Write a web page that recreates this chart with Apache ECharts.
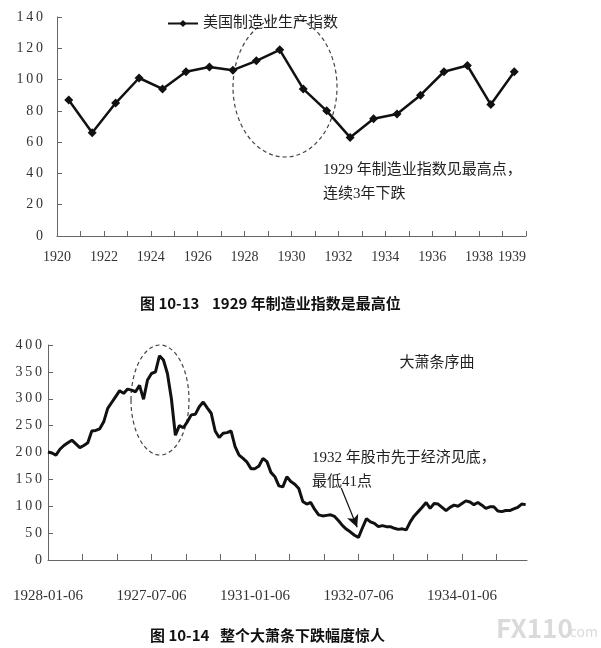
<!DOCTYPE html>
<html>
<head>
<meta charset="utf-8">
<script src="https://cdn.jsdelivr.net/npm/echarts@6/dist/echarts.min.js"></script>
<style>
html, body { margin: 0; padding: 0; background: #fff; }
#main { width: 601px; height: 648px; }
</style>
</head>
<body>
<div id="main"></div>
<script>
// 图 10-13 美国制造业生产指数
var years = [1920, 1921, 1922, 1923, 1924, 1925, 1926, 1927, 1928, 1929,
	1930, 1931, 1932, 1933, 1934, 1935, 1936, 1937, 1938, 1939];
var mfgIndex = [87, 66, 85, 101, 94, 105, 108, 106, 112, 119,
	94, 80, 63, 75, 78, 90, 105, 109, 84, 105];

// 图 10-14 道指，每3周读一个点，从1928-01-06起
var djiaStep = 3;
var djia = [201, 199, 195, 206, 213, 218, 223, 216, 209, 213,
	218, 240, 241, 244, 257, 282, 293, 304, 315, 310,
	318, 316, 313, 325, 299, 335, 347, 350, 380, 372,
	347, 300, 232, 250, 246, 257, 270, 271, 285, 294,
	283, 273, 240, 228, 236, 237, 240, 211, 195, 189,
	182, 170, 170, 175, 189, 183, 163, 155, 138, 136,
	155, 146, 141, 133, 109, 104, 107, 94, 84, 82,
	83, 84, 81, 73, 64, 57, 52, 46, 42, 60,
	77, 71, 68, 62, 64, 62, 62, 59, 57, 58,
	56, 71, 82, 90, 98, 107, 96, 105, 104, 98,
	92, 98, 102, 100, 105, 110, 108, 103, 107, 102,
	96, 99, 99, 91, 90, 92, 92, 95, 98, 104, 103];
var djiaTickLabels = ['1928-01-06', '1927-07-06', '1931-01-06', '1932-07-06', '1934-01-06'];
var arrowFrom = [221, 134];
var arrowTo = [233, 61];

var serif = '"Liberation Serif", "Noto Sans CJK SC", serif';
var sans = '"Noto Sans CJK SC", sans-serif';

function spaced(v) {
	return String(v).split('').join('\u2009');
}

var myChart = echarts.init(document.getElementById('main'));

myChart.setOption({
	animation: false,
	backgroundColor: '#fff',
	legend: {
		data: ['美国制造业生产指数'],
		left: 162,
		top: 11,
		itemWidth: 30,
		itemHeight: 9,
		itemGap: 4,
		textStyle: { fontSize: 15, fontFamily: serif, color: '#222' }
	},
	grid: [
		{ left: 57, top: 17, width: 469, height: 219 },
		{ left: 48, top: 345, width: 479, height: 215 }
	],
	xAxis: [{
		gridIndex: 0,
		type: 'value',
		min: 1920,
		max: 1940,
		interval: 1,
		splitLine: { show: false },
		axisLine: { lineStyle: { color: '#666', width: 1 } },
		axisTick: { inside: true, length: 5, lineStyle: { color: '#666' } },
		axisLabel: {
			margin: 14,
			fontSize: 14,
			fontFamily: serif,
			color: '#333',
			alignMaxLabel: 'right',
			formatter: function (v) {
				if (v === 1940) return '1939';
				return v % 2 === 0 ? String(v) : '';
			}
		}
	}, {
		gridIndex: 1,
		type: 'value',
		min: 0,
		max: 361,
		interval: 26,
		splitLine: { show: false },
		axisLine: { lineStyle: { color: '#666', width: 1 } },
		axisTick: { inside: true, length: 6, lineStyle: { color: '#666' } },
		axisLabel: {
			margin: 29,
			fontSize: 15,
			fontFamily: serif,
			color: '#333',
			showMaxLabel: false,
			formatter: function (v) {
				return v % 78 === 0 ? (djiaTickLabels[v / 78] || '') : '';
			}
		}
	}],
	yAxis: [{
		gridIndex: 0,
		type: 'value',
		min: 0,
		max: 140,
		interval: 20,
		splitLine: { show: false },
		axisLine: { show: true, lineStyle: { color: '#666', width: 1 } },
		axisTick: { show: true, inside: true, length: 5, lineStyle: { color: '#666' } },
		axisLabel: {
			margin: 14,
			fontSize: 14,
			fontFamily: serif,
			color: '#333',
			formatter: spaced
		}
	}, {
		gridIndex: 1,
		type: 'value',
		min: 0,
		max: 400,
		interval: 50,
		splitLine: { show: false },
		axisLine: { show: true, lineStyle: { color: '#666', width: 1 } },
		axisTick: { show: true, inside: true, length: 5, lineStyle: { color: '#666' } },
		axisLabel: {
			margin: 6,
			fontSize: 14,
			fontFamily: serif,
			color: '#333',
			formatter: spaced
		}
	}],
	series: [{
		name: '美国制造业生产指数',
		type: 'line',
		xAxisIndex: 0,
		yAxisIndex: 0,
		data: years.map(function (y, i) { return [y + 0.5, mfgIndex[i]]; }),
		symbol: 'diamond',
		symbolSize: 9,
		lineStyle: { color: '#111', width: 2.5 },
		itemStyle: { color: '#111' }
	}, {
		name: '道指',
		type: 'line',
		xAxisIndex: 1,
		yAxisIndex: 1,
		data: djia.map(function (v, i) { return [i * djiaStep, v]; }),
		showSymbol: false,
		lineStyle: { color: '#111', width: 3 },
		markLine: {
			silent: true,
			symbol: ['none', 'arrow'],
			symbolSize: [9, 12],
			label: { show: false },
			lineStyle: { color: '#111', width: 1.2, type: 'solid' },
			data: [[{ coord: arrowFrom }, { coord: arrowTo }]]
		}
	}],
	graphic: [
		{ type: 'ellipse', shape: { cx: 285, cy: 87, rx: 52, ry: 70 },
			style: { fill: 'none', stroke: '#444', lineWidth: 1.2, lineDash: [4, 3] } },
		{ type: 'ellipse', shape: { cx: 160, cy: 400, rx: 29, ry: 55 },
			style: { fill: 'none', stroke: '#444', lineWidth: 1.2, lineDash: [4, 3] } },
		{ type: 'text', x: 323, y: 170,
			style: { text: '1929 年制造业指数见最高点，', font: '15px ' + serif, fill: '#222', verticalAlign: 'middle' } },
		{ type: 'text', x: 323, y: 194,
			style: { text: '连续3年下跌', font: '15px ' + serif, fill: '#222', verticalAlign: 'middle' } },
		{ type: 'text', x: 140, y: 303,
			style: { text: '图 10-13', font: 'bold 15px ' + sans, fill: '#111', verticalAlign: 'middle' } },
		{ type: 'text', x: 212, y: 303,
			style: { text: '1929 年制造业指数是最高位', font: 'bold 15px ' + sans, fill: '#111', verticalAlign: 'middle' } },
		{ type: 'text', x: 437, y: 363,
			style: { text: '大萧条序曲', font: '15px ' + serif, fill: '#222', align: 'center', verticalAlign: 'middle' } },
		{ type: 'text', x: 312, y: 458,
			style: { text: '1932 年股市先于经济见底，', font: '15px ' + serif, fill: '#222', verticalAlign: 'middle' } },
		{ type: 'text', x: 312, y: 482,
			style: { text: '最低41点', font: '15px ' + serif, fill: '#222', verticalAlign: 'middle' } },
		{ type: 'text', x: 150, y: 635,
			style: { text: '图 10-14', font: 'bold 15px ' + sans, fill: '#111', verticalAlign: 'middle' } },
		{ type: 'text', x: 220, y: 635,
			style: { text: '整个大萧条下跌幅度惊人', font: 'bold 15px ' + sans, fill: '#111', verticalAlign: 'middle' } },
		{ type: 'text', x: 496, y: 628,
			style: { text: 'FX110', font: 'bold 26px ' + sans, fill: '#dadada', verticalAlign: 'middle' } },
		{ type: 'text', x: 566, y: 632,
			style: { text: '.com', font: '14px ' + sans, fill: '#dadada', verticalAlign: 'middle' } }
	]
});

window.addEventListener('resize', function () {
	myChart.resize();
});
</script>
</body>
</html>
